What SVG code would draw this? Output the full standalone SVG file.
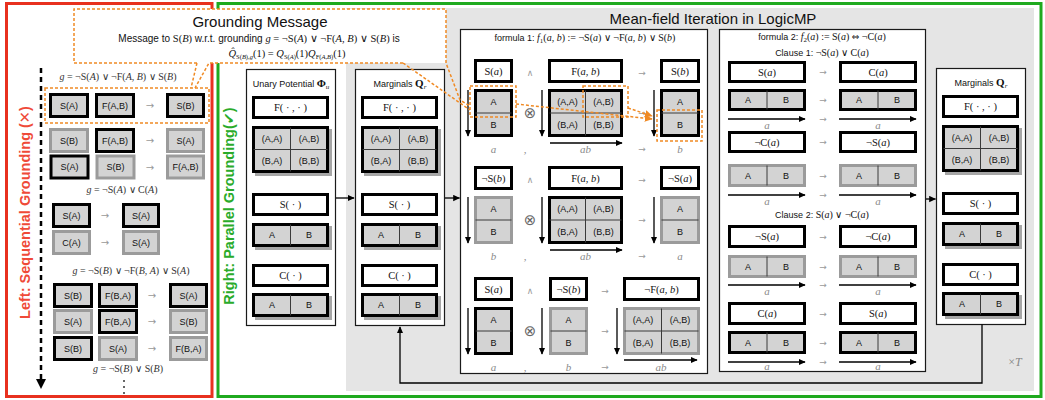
<svg xmlns="http://www.w3.org/2000/svg" width="1045" height="400" viewBox="0 0 1045 400">
<defs>
<marker id="ah" viewBox="0 0 10 10" refX="9" refY="5" markerWidth="7" markerHeight="7" markerUnits="userSpaceOnUse" orient="auto"><path d="M0,0.5 L10,5 L0,9.5 z" fill="#000"/></marker>
<marker id="oh" viewBox="0 0 10 10" refX="9" refY="5" markerWidth="8" markerHeight="8" markerUnits="userSpaceOnUse" orient="auto"><path d="M0,0.5 L10,5 L0,9.5 z" fill="#f08a24"/></marker>
<style>
.kb{fill:#d3d3d3;stroke:#000;stroke-width:3}
.gb{fill:#d3d3d3;stroke:#9b9b9b;stroke-width:3}
.wb{fill:#fff;stroke:#000;stroke-width:3}
.pn{fill:#fff;stroke:#1a1a1a;stroke-width:1.2}
.sh{fill:#a6a6a6}
.dv{stroke:#3a3a3a;stroke-width:1;fill:none}
.t{font-family:"Liberation Sans",Arial,sans-serif;font-size:9px;fill:#111;text-anchor:middle}
.m{font-family:"Liberation Serif","Times New Roman",serif;font-size:10.5px;fill:#111;text-anchor:middle}
.i{font-style:italic}
.s{font-family:"Liberation Sans",Arial,sans-serif;font-size:9px}
.op{font-family:"DejaVu Sans",sans-serif;font-size:9px;fill:#9a9a9a;text-anchor:middle}
.ot{font-family:"DejaVu Sans",sans-serif;font-size:15px;fill:#666;text-anchor:middle}
.lb{font-family:"Liberation Serif",serif;font-style:italic;font-size:11px;fill:#8a8a8a;text-anchor:middle}
.ar{stroke:#000;stroke-width:1.3;fill:none;marker-end:url(#ah)}
.od{stroke:#f08a24;stroke-width:1.5;fill:none;stroke-dasharray:3 2}
.g{font-family:"Liberation Serif","Times New Roman",serif;font-size:10px;fill:#333;text-anchor:middle}
.la{font-family:"DejaVu Sans",sans-serif;font-size:10px;fill:#999;text-anchor:middle}
</style>
</defs>
<rect width="1045" height="400" fill="#fff"/>
<rect x="346" y="8" width="688" height="383" fill="#e5e5e5"/>
<rect x="6.5" y="3.5" width="205.5" height="393" fill="none" stroke="#e8311f" stroke-width="3"/>
<rect x="218" y="3.5" width="823" height="393" fill="none" stroke="#1faa1f" stroke-width="3"/>

<text transform="translate(29.5,212.5) rotate(-90)" text-anchor="middle" font-family="Liberation Sans, Arial, sans-serif" font-weight="bold" font-size="14.5" fill="#ef4a38">Left: Sequential Grounding (<tspan font-family="DejaVu Sans" font-weight="normal">✕</tspan>)</text>
<text transform="translate(234,206) rotate(-90)" text-anchor="middle" font-family="Liberation Sans, Arial, sans-serif" font-weight="bold" font-size="14.5" fill="#2aab2a">Right: Parallel Grounding(<tspan font-family="DejaVu Sans">✔</tspan>)</text>

<text x="713" y="24" text-anchor="middle" font-family="Liberation Sans, Arial, sans-serif" font-size="15" fill="#111">Mean-field Iteration in LogicMP</text>

<!-- Left panel -->
<g id="left-seq">
<line x1="41" y1="68" x2="41" y2="380" stroke="#000" stroke-width="2.5" stroke-dasharray="5 4"/>
<path d="M36,379 L46,379 L41,389 z" fill="#000"/>
<text class="g" x="118" y="80"><tspan class="i">g</tspan> = ¬S(<tspan class="i">A</tspan>) ∨ ¬F(<tspan class="i">A</tspan>, <tspan class="i">B</tspan>) ∨ S(<tspan class="i">B</tspan>)</text>
<g id="l-row1">
<rect class="kb" x="50.5" y="94.5" width="37" height="22"/><text class="t" x="69" y="108.7">S(A)</text>
<rect class="kb" x="96.5" y="94.5" width="37" height="22"/><text class="t" x="115" y="108.7">F(A,B)</text>
<text class="la" x="150" y="109">→</text>
<rect class="kb" x="167.5" y="94.5" width="36" height="22"/><text class="t" x="185.5" y="108.7">S(B)</text>
</g>
<g id="l-row2">
<rect class="gb" x="50.5" y="129.5" width="37" height="22"/><text class="t" x="69" y="143.7">S(B)</text>
<rect class="kb" x="96.5" y="129.5" width="37" height="22"/><text class="t" x="115" y="143.7">F(A,B)</text>
<text class="la" x="150" y="144">→</text>
<rect class="gb" x="167.5" y="129.5" width="36" height="22"/><text class="t" x="185.5" y="143.7">S(A)</text>
</g>
<g id="l-row3">
<rect class="kb" x="51" y="156" width="37" height="22"/><text class="t" x="69.5" y="170.2">S(A)</text>
<rect class="gb" x="97" y="156" width="37" height="22"/><text class="t" x="115.5" y="170.2">S(B)</text>
<text class="la" x="150" y="171">→</text>
<rect class="gb" x="167.5" y="156" width="36" height="22"/><text class="t" x="185.5" y="170.2">F(A,B)</text>
</g>
<text class="g" x="122" y="193"><tspan class="i">g</tspan> = ¬S(<tspan class="i">A</tspan>) ∨ C(<tspan class="i">A</tspan>)</text>
<g id="l-row4">
<rect class="kb" x="53.5" y="204.5" width="36" height="22"/><text class="t" x="71.5" y="218.7">S(A)</text>
<text class="la" x="105" y="219">→</text>
<rect class="kb" x="123.5" y="204.5" width="35" height="22"/><text class="t" x="141" y="218.7">S(A)</text>
</g>
<g id="l-row5">
<rect class="gb" x="53.5" y="231.5" width="36" height="22"/><text class="t" x="71.5" y="245.7">C(A)</text>
<text class="la" x="105" y="246">→</text>
<rect class="gb" x="123.5" y="231.5" width="35" height="22"/><text class="t" x="141" y="245.7">S(A)</text>
</g>
<text class="g" x="131" y="274"><tspan class="i">g</tspan> = ¬S(<tspan class="i">B</tspan>) ∨ ¬F(<tspan class="i">B</tspan>, <tspan class="i">A</tspan>) ∨ S(<tspan class="i">A</tspan>)</text>
<g id="l-row6">
<rect class="kb" x="54.5" y="284.5" width="37" height="22"/><text class="t" x="73" y="298.7">S(B)</text>
<rect class="kb" x="99.5" y="284.5" width="37" height="22"/><text class="t" x="118" y="298.7">F(B,A)</text>
<text class="la" x="152" y="299">→</text>
<rect class="kb" x="170.5" y="284.5" width="36" height="22"/><text class="t" x="188.5" y="298.7">S(A)</text>
</g>
<g id="l-row7">
<rect class="gb" x="54.5" y="310.5" width="37" height="22"/><text class="t" x="73" y="324.7">S(A)</text>
<rect class="kb" x="99.5" y="310.5" width="37" height="22"/><text class="t" x="118" y="324.7">F(B,A)</text>
<text class="la" x="152" y="325">→</text>
<rect class="gb" x="170.5" y="310.5" width="36" height="22"/><text class="t" x="188.5" y="324.7">S(B)</text>
</g>
<g id="l-row8">
<rect class="kb" x="54.5" y="337.5" width="37" height="22"/><text class="t" x="73" y="351.7">S(B)</text>
<rect class="gb" x="99.5" y="337.5" width="37" height="22"/><text class="t" x="118" y="351.7">S(A)</text>
<text class="la" x="152" y="352">→</text>
<rect class="gb" x="170.5" y="337.5" width="36" height="22"/><text class="t" x="188.5" y="351.7">F(B,A)</text>
</g>
<text class="g" x="128" y="372"><tspan class="i">g</tspan> = ¬S(<tspan class="i">B</tspan>) ∨ S(<tspan class="i">B</tspan>)</text>
<circle cx="124" cy="381" r="1" fill="#333"/><circle cx="124" cy="387" r="1" fill="#333"/><circle cx="124" cy="393" r="1" fill="#333"/>
</g>

<!-- Grounding message callout -->
<g id="grounding-message">
<rect x="74" y="9" width="372" height="54" fill="#fff"/>
<text x="260" y="27" text-anchor="middle" font-family="Liberation Sans, Arial, sans-serif" font-size="15" fill="#111">Grounding Message</text>
<text x="259" y="42" text-anchor="middle" font-family="Liberation Sans, Arial, sans-serif" font-size="10" fill="#111">Message to <tspan font-family="Liberation Serif" font-size="10.5">S(<tspan class="i">B</tspan>)</tspan> w.r.t. grounding <tspan font-family="Liberation Serif" font-size="10.5"><tspan class="i">g</tspan> = ¬S(<tspan class="i">A</tspan>) ∨ ¬F(<tspan class="i">A</tspan>, <tspan class="i">B</tspan>) ∨ S(<tspan class="i">B</tspan>)</tspan> is</text>
<text x="287" y="57" text-anchor="middle" font-family="Liberation Serif, serif" font-size="10.5" fill="#111"><tspan class="i">Q̂</tspan><tspan font-size="6.5" dy="2">S(<tspan class="i">B</tspan>),<tspan class="i">g</tspan></tspan><tspan dy="-2">(1) = </tspan><tspan class="i">Q</tspan><tspan font-size="6.5" dy="2">S(<tspan class="i">A</tspan>)</tspan><tspan dy="-2">(1)</tspan><tspan class="i">Q</tspan><tspan font-size="6.5" dy="2">F(<tspan class="i">A</tspan>,<tspan class="i">B</tspan>)</tspan><tspan dy="-2">(1)</tspan></text>
</g>

<!-- Unary potential panel -->
<g id="unary" transform="translate(246,0)">
<rect class="pn" x="0.5" y="69.5" width="89" height="256"/>
<text class="t" x="45" y="87">Unary Potential <tspan font-family="Liberation Serif" font-weight="bold" font-size="11">Φ</tspan><tspan font-family="Liberation Serif" font-style="italic" font-size="7" dy="2">u</tspan></text>
<rect class="wb" x="7.5" y="97.5" width="74" height="20"/><text class="m" x="44.5" y="111">F( · , · )</text>
<rect class="sh" x="9" y="129" width="77" height="47"/>
<rect class="kb" x="7.5" y="127.5" width="74" height="44"/>
<path class="dv" d="M44.5,127.5V171.5M7.5,149.5H81.5"/>
<text class="t" x="26" y="141.7">(A,A)</text><text class="t" x="63" y="141.7">(A,B)</text>
<text class="t" x="26" y="163.7">(B,A)</text><text class="t" x="63" y="163.7">(B,B)</text>
<rect class="wb" x="7.5" y="194.5" width="74" height="20"/><text class="m" x="44.5" y="208">S( · )</text>
<rect class="sh" x="9" y="226" width="77" height="24"/>
<rect class="kb" x="7.5" y="224.5" width="74" height="21"/>
<path class="dv" d="M44.5,224.5V245.5"/>
<text class="t" x="26" y="238.2">A</text><text class="t" x="63" y="238.2">B</text>
<rect class="wb" x="7.5" y="265.5" width="74" height="20"/><text class="m" x="44.5" y="279">C( · )</text>
<rect class="sh" x="9" y="296" width="77" height="24"/>
<rect class="kb" x="7.5" y="294.5" width="74" height="21"/>
<path class="dv" d="M44.5,294.5V315.5"/>
<text class="t" x="26" y="308.2">A</text><text class="t" x="63" y="308.2">B</text>
</g>

<!-- Marginals panel (input) -->
<g id="marginals-in" transform="translate(355,0)">
<rect class="pn" x="0.5" y="69.5" width="89" height="256"/>
<text class="t" x="45" y="87">Marginals <tspan font-family="Liberation Serif" font-weight="bold" font-size="11">Q</tspan><tspan font-family="Liberation Serif" font-style="italic" font-size="7" dy="2">r</tspan></text>
<rect class="wb" x="7.5" y="97.5" width="74" height="20"/><text class="m" x="44.5" y="111">F( · , · )</text>
<rect class="sh" x="9" y="129" width="77" height="47"/>
<rect class="kb" x="7.5" y="127.5" width="74" height="44"/>
<path class="dv" d="M44.5,127.5V171.5M7.5,149.5H81.5"/>
<text class="t" x="26" y="141.7">(A,A)</text><text class="t" x="63" y="141.7">(A,B)</text>
<text class="t" x="26" y="163.7">(B,A)</text><text class="t" x="63" y="163.7">(B,B)</text>
<rect class="wb" x="7.5" y="194.5" width="74" height="20"/><text class="m" x="44.5" y="208">S( · )</text>
<rect class="sh" x="9" y="226" width="77" height="24"/>
<rect class="kb" x="7.5" y="224.5" width="74" height="21"/>
<path class="dv" d="M44.5,224.5V245.5"/>
<text class="t" x="26" y="238.2">A</text><text class="t" x="63" y="238.2">B</text>
<rect class="wb" x="7.5" y="265.5" width="74" height="20"/><text class="m" x="44.5" y="279">C( · )</text>
<rect class="sh" x="9" y="296" width="77" height="24"/>
<rect class="kb" x="7.5" y="294.5" width="74" height="21"/>
<path class="dv" d="M44.5,294.5V315.5"/>
<text class="t" x="26" y="308.2">A</text><text class="t" x="63" y="308.2">B</text>
</g>

<!-- Formula 1 panel -->
<g id="formula1">
<rect class="pn" x="460.5" y="29.5" width="247" height="344"/>
<text x="585" y="41" text-anchor="middle" font-family="Liberation Serif, serif" font-size="10" fill="#111"><tspan class="s">formula 1: </tspan><tspan class="i">f</tspan><tspan font-size="7" dy="2">1</tspan><tspan dy="-2">(</tspan><tspan class="i">a</tspan>, <tspan class="i">b</tspan>) := ¬S(<tspan class="i">a</tspan>) ∨ ¬F(<tspan class="i">a</tspan>, <tspan class="i">b</tspan>) ∨ S(<tspan class="i">b</tspan>)</text>
</g>
<g id="f1-r1-Sa">
<rect class="wb" x="475.5" y="60.5" width="36" height="21"/><text class="m" x="493.5" y="74.5">S(<tspan class="i">a</tspan>)</text>
<rect class="kb" x="475.5" y="90.5" width="36" height="45"/><path class="dv" d="M475.5,113H511.5"/>
<text class="t" x="493.5" y="105">A</text><text class="t" x="493.5" y="127.5">B</text>
</g>
<g id="f1-r1-Fab">
<rect class="wb" x="549.5" y="60.5" width="72" height="21"/><text class="m" x="585.5" y="74.5">F(<tspan class="i">a</tspan>, <tspan class="i">b</tspan>)</text>
<rect class="kb" x="549.5" y="90.5" width="72" height="45"/><path class="dv" d="M585.5,90.5V135.5M549.5,113H621.5"/>
<text class="t" x="567.5" y="105">(A,A)</text><text class="t" x="603.5" y="105">(A,B)</text>
<text class="t" x="567.5" y="127.5">(B,A)</text><text class="t" x="603.5" y="127.5">(B,B)</text>
</g>
<g id="f1-r1-Sb">
<rect class="wb" x="661.5" y="60.5" width="37" height="21"/><text class="m" x="680" y="74.5">S(<tspan class="i">b</tspan>)</text>
<rect class="kb" x="661.5" y="90.5" width="37" height="45"/><path class="dv" d="M661.5,113H698.5"/>
<text class="t" x="680" y="105">A</text><text class="t" x="680" y="127.5">B</text>
</g>
<g id="f1-r1-ops">
<text class="op" x="530" y="76">∧</text><text class="op" x="642" y="76">→</text>
<text class="ot" x="530" y="118">⊗</text><text class="op" x="642" y="116">→</text>
<text class="lb" x="493.5" y="153">a</text><text class="lb" x="525" y="153">,</text><text class="lb" x="585.5" y="153">ab</text><text class="op" x="642" y="152">→</text><text class="lb" x="680" y="153">b</text>
</g>

<g id="f1-r2-nSb">
<rect class="wb" x="475.5" y="167.5" width="36" height="21"/><text class="m" x="493.5" y="181.5">¬S(<tspan class="i">b</tspan>)</text>
<rect class="gb" x="475.5" y="197.5" width="36" height="45"/><path class="dv" d="M475.5,220H511.5"/>
<text class="t" x="493.5" y="212">A</text><text class="t" x="493.5" y="234.5">B</text>
</g>
<g id="f1-r2-Fab">
<rect class="wb" x="549.5" y="167.5" width="72" height="21"/><text class="m" x="585.5" y="181.5">F(<tspan class="i">a</tspan>, <tspan class="i">b</tspan>)</text>
<rect class="kb" x="549.5" y="197.5" width="72" height="45"/><path class="dv" d="M585.5,197.5V242.5M549.5,220H621.5"/>
<text class="t" x="567.5" y="212">(A,A)</text><text class="t" x="603.5" y="212">(A,B)</text>
<text class="t" x="567.5" y="234.5">(B,A)</text><text class="t" x="603.5" y="234.5">(B,B)</text>
</g>
<g id="f1-r2-nSa">
<rect class="wb" x="661.5" y="167.5" width="37" height="21"/><text class="m" x="680" y="181.5">¬S(<tspan class="i">a</tspan>)</text>
<rect class="gb" x="661.5" y="197.5" width="37" height="45"/><path class="dv" d="M661.5,220H698.5"/>
<text class="t" x="680" y="212">A</text><text class="t" x="680" y="234.5">B</text>
</g>
<g id="f1-r2-ops">
<text class="op" x="530" y="183">∧</text><text class="op" x="642" y="183">→</text>
<text class="ot" x="530" y="225">⊗</text><text class="op" x="642" y="223">→</text>
<text class="lb" x="493.5" y="260">b</text><text class="lb" x="525" y="260">,</text><text class="lb" x="585.5" y="260">ab</text><text class="op" x="642" y="259">→</text><text class="lb" x="680" y="260">a</text>
</g>

<g id="f1-r3-Sa">
<rect class="wb" x="475.5" y="278.5" width="36" height="21"/><text class="m" x="493.5" y="292.5">S(<tspan class="i">a</tspan>)</text>
<rect class="kb" x="475.5" y="308.5" width="36" height="45"/><path class="dv" d="M475.5,331H511.5"/>
<text class="t" x="493.5" y="323">A</text><text class="t" x="493.5" y="345.5">B</text>
</g>
<g id="f1-r3-nSb">
<rect class="wb" x="550.5" y="278.5" width="36" height="21"/><text class="m" x="568.5" y="292.5">¬S(<tspan class="i">b</tspan>)</text>
<rect class="gb" x="550.5" y="308.5" width="36" height="45"/><path class="dv" d="M550.5,331H586.5"/>
<text class="t" x="568.5" y="323">A</text><text class="t" x="568.5" y="345.5">B</text>
</g>
<g id="f1-r3-nFab">
<rect class="wb" x="624.5" y="278.5" width="74" height="21"/><text class="m" x="661.5" y="292.5">¬F(<tspan class="i">a</tspan>, <tspan class="i">b</tspan>)</text>
<rect class="gb" x="624.5" y="308.5" width="74" height="45"/><path class="dv" d="M661.5,308.5V353.5M624.5,331H698.5"/>
<text class="t" x="643" y="323">(A,A)</text><text class="t" x="680" y="323">(A,B)</text>
<text class="t" x="643" y="345.5">(B,A)</text><text class="t" x="680" y="345.5">(B,B)</text>
</g>
<g id="f1-r3-ops">
<text class="op" x="530" y="294">∧</text><text class="op" x="605" y="294">→</text>
<text class="ot" x="530" y="336">⊗</text><text class="op" x="605" y="334">→</text>
<text class="lb" x="493.5" y="371">a</text><text class="lb" x="525" y="371">,</text><text class="lb" x="568.5" y="371">b</text><text class="op" x="605" y="370">→</text><text class="lb" x="661" y="371">ab</text>
</g>

<!-- Formula 2 panel -->
<g id="formula2">
<rect class="pn" x="719.5" y="29.5" width="206" height="342"/>
<text x="822" y="40" text-anchor="middle" font-family="Liberation Serif, serif" font-size="10" fill="#111"><tspan class="s">formula 2: </tspan><tspan class="i">f</tspan><tspan font-size="7" dy="2">2</tspan><tspan dy="-2">(</tspan><tspan class="i">a</tspan>) := S(<tspan class="i">a</tspan>) <tspan font-family="DejaVu Sans" font-size="9">⇔</tspan> ¬C(<tspan class="i">a</tspan>)</text>
<text x="822" y="56" text-anchor="middle" font-family="Liberation Serif, serif" font-size="10" fill="#111"><tspan class="s">Clause 1: </tspan>¬S(<tspan class="i">a</tspan>) ∨ C(<tspan class="i">a</tspan>)</text>
<text x="822" y="218" text-anchor="middle" font-family="Liberation Serif, serif" font-size="10" fill="#111"><tspan class="s">Clause 2: </tspan>S(<tspan class="i">a</tspan>) ∨ ¬C(<tspan class="i">a</tspan>)</text>
</g>
<g id="f2-c1-Sa">
<rect class="wb" x="729.5" y="62.5" width="75" height="19"/><text class="m" x="767" y="75.5">S(<tspan class="i">a</tspan>)</text>
<rect class="kb" x="729.5" y="90.5" width="75" height="19"/><path class="dv" d="M767,90.5V109.5"/>
<text class="t" x="748" y="103.2">A</text><text class="t" x="786" y="103.2">B</text>
</g>
<g id="f2-c1-Ca">
<rect class="wb" x="840.5" y="62.5" width="75" height="19"/><text class="m" x="878" y="75.5">C(<tspan class="i">a</tspan>)</text>
<rect class="kb" x="840.5" y="90.5" width="75" height="19"/><path class="dv" d="M878,90.5V109.5"/>
<text class="t" x="859" y="103.2">A</text><text class="t" x="897" y="103.2">B</text>
</g>
<g id="f2-c1-nCa">
<rect class="wb" x="729.5" y="132.5" width="75" height="19"/><text class="m" x="767" y="145.5">¬C(<tspan class="i">a</tspan>)</text>
<rect class="gb" x="729.5" y="165.5" width="75" height="20"/><path class="dv" d="M767,165.5V185.5"/>
<text class="t" x="748" y="178.7">A</text><text class="t" x="786" y="178.7">B</text>
</g>
<g id="f2-c1-nSa">
<rect class="wb" x="840.5" y="132.5" width="75" height="19"/><text class="m" x="878" y="145.5">¬S(<tspan class="i">a</tspan>)</text>
<rect class="gb" x="840.5" y="165.5" width="75" height="20"/><path class="dv" d="M878,165.5V185.5"/>
<text class="t" x="859" y="178.7">A</text><text class="t" x="897" y="178.7">B</text>
</g>
<g id="f2-c2-nSa">
<rect class="wb" x="729.5" y="226.5" width="75" height="20"/><text class="m" x="767" y="240">¬S(<tspan class="i">a</tspan>)</text>
<rect class="gb" x="729.5" y="256.5" width="75" height="20"/><path class="dv" d="M767,256.5V276.5"/>
<text class="t" x="748" y="269.7">A</text><text class="t" x="786" y="269.7">B</text>
</g>
<g id="f2-c2-nCa">
<rect class="wb" x="840.5" y="226.5" width="75" height="20"/><text class="m" x="878" y="240">¬C(<tspan class="i">a</tspan>)</text>
<rect class="gb" x="840.5" y="256.5" width="75" height="20"/><path class="dv" d="M878,256.5V276.5"/>
<text class="t" x="859" y="269.7">A</text><text class="t" x="897" y="269.7">B</text>
</g>
<g id="f2-c2-Ca">
<rect class="wb" x="729.5" y="303.5" width="75" height="20"/><text class="m" x="767" y="317">C(<tspan class="i">a</tspan>)</text>
<rect class="kb" x="729.5" y="332.5" width="75" height="20"/><path class="dv" d="M767,332.5V352.5"/>
<text class="t" x="748" y="345.7">A</text><text class="t" x="786" y="345.7">B</text>
</g>
<g id="f2-c2-Sa">
<rect class="wb" x="840.5" y="303.5" width="75" height="20"/><text class="m" x="878" y="317">S(<tspan class="i">a</tspan>)</text>
<rect class="kb" x="840.5" y="332.5" width="75" height="20"/><path class="dv" d="M878,332.5V352.5"/>
<text class="t" x="859" y="345.7">A</text><text class="t" x="897" y="345.7">B</text>
</g>
<g id="f2-ops">
<text class="op" x="823" y="75">→</text><text class="op" x="823" y="103">→</text><text class="op" x="823" y="122">→</text>
<text class="lb" x="767" y="129">a</text><text class="lb" x="878" y="129">a</text>
<text class="op" x="823" y="145">→</text><text class="op" x="823" y="179">→</text><text class="op" x="823" y="198">→</text>
<text class="lb" x="767" y="205">a</text><text class="lb" x="878" y="205">a</text>
<text class="op" x="823" y="240">→</text><text class="op" x="823" y="270">→</text><text class="op" x="823" y="288">→</text>
<text class="lb" x="767" y="295">a</text><text class="lb" x="878" y="295">a</text>
<text class="op" x="823" y="317">→</text><text class="op" x="823" y="346">→</text><text class="op" x="823" y="365">→</text>
<text class="lb" x="767" y="370">a</text><text class="lb" x="878" y="370">a</text>
</g>

<!-- Marginals panel (output) -->
<g id="marginals-out" transform="translate(936,-1)">
<rect class="pn" x="0.5" y="69.5" width="89" height="256"/>
<text class="t" x="45" y="87">Marginals <tspan font-family="Liberation Serif" font-weight="bold" font-size="11">Q</tspan><tspan font-family="Liberation Serif" font-style="italic" font-size="7" dy="2">r</tspan></text>
<rect class="wb" x="7.5" y="97.5" width="74" height="20"/><text class="m" x="44.5" y="111">F( · , · )</text>
<rect class="sh" x="9" y="129" width="77" height="47"/>
<rect class="kb" x="7.5" y="127.5" width="74" height="44"/>
<path class="dv" d="M44.5,127.5V171.5M7.5,149.5H81.5"/>
<text class="t" x="26" y="141.7">(A,A)</text><text class="t" x="63" y="141.7">(A,B)</text>
<text class="t" x="26" y="163.7">(B,A)</text><text class="t" x="63" y="163.7">(B,B)</text>
<rect class="wb" x="7.5" y="194.5" width="74" height="20"/><text class="m" x="44.5" y="208">S( · )</text>
<rect class="sh" x="9" y="226" width="77" height="24"/>
<rect class="kb" x="7.5" y="224.5" width="74" height="21"/>
<path class="dv" d="M44.5,224.5V245.5"/>
<text class="t" x="26" y="238.2">A</text><text class="t" x="63" y="238.2">B</text>
<rect class="wb" x="7.5" y="265.5" width="74" height="20"/><text class="m" x="44.5" y="279">C( · )</text>
<rect class="sh" x="9" y="296" width="77" height="24"/>
<rect class="kb" x="7.5" y="294.5" width="74" height="21"/>
<path class="dv" d="M44.5,294.5V315.5"/>
<text class="t" x="26" y="308.2">A</text><text class="t" x="63" y="308.2">B</text>
</g>
<text x="1015" y="366" text-anchor="middle" font-family="Liberation Serif, serif" font-size="12" fill="#888">×<tspan class="i">T</tspan></text>

<!-- Connectors -->
<g id="connectors">
<path class="ar" d="M336,198H354"/>
<path class="ar" d="M445,198H459.5"/>
<path class="ar" d="M926,199H935.5"/>
<path class="ar" d="M982,324.5V383H400V327"/>
<path class="ar" d="M468,90V136"/><path class="ar" d="M542,90V136"/><path class="ar" d="M654,90V136"/>
<path class="ar" d="M550,143H622"/>
<path class="ar" d="M468,197V243"/><path class="ar" d="M542,197V243"/><path class="ar" d="M654,197V243"/>
<path class="ar" d="M550,250H622"/>
<path class="ar" d="M468,308V354"/><path class="ar" d="M542,308V354"/><path class="ar" d="M617,308V354"/>
<path class="ar" d="M624,360H697"/>
<path class="ar" d="M728,119H805"/><path class="ar" d="M839,119H916"/>
<path class="ar" d="M728,195H805"/><path class="ar" d="M839,195H916"/>
<path class="ar" d="M728,285H805"/><path class="ar" d="M839,285H916"/>
<path class="ar" d="M728,362H805"/><path class="ar" d="M839,362H916"/>
</g>

<!-- Orange highlight / callout -->
<g id="highlight">
<path class="od" d="M197,63H74V9H446V63L460,100L470,106M403,63L470,110M403,63H209L195,88M197,63L191,88"/>
<rect class="od" x="45" y="88" width="164" height="35"/>
<rect class="od" x="470" y="86" width="46" height="31"/>
<rect class="od" x="583" y="86" width="45" height="31"/>
<rect class="od" x="657" y="110" width="45" height="31"/>
<path class="od" d="M516,104L652,119" marker-end="url(#oh)"/>
<path class="od" d="M628,108L652,116" marker-end="url(#oh)"/>
</g>
</svg>
